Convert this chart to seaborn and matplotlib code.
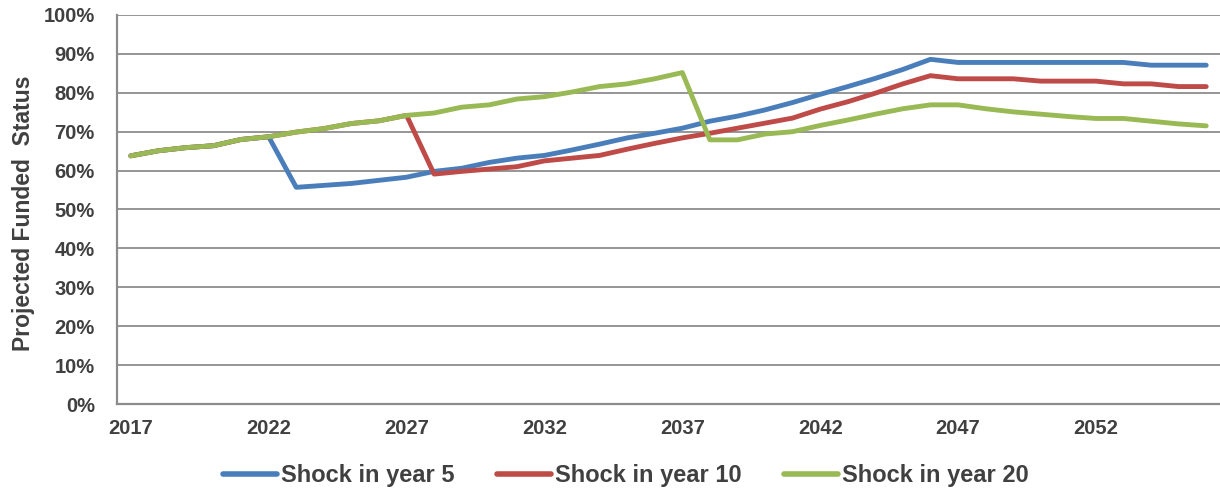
import numpy as np
import pandas as pd
import matplotlib
matplotlib.use("Agg")
import matplotlib.pyplot as plt
import seaborn as sns

# ====== DATA ======
years = list(range(2017, 2057))

shock_5 = [63.8, 65.1, 65.9, 66.4, 68.0, 68.7, 55.7, 56.2, 56.7, 57.5,
           58.3, 59.8, 60.6, 62.1, 63.2, 63.9, 65.3, 66.8, 68.4, 69.6,
           70.9, 72.7, 74.0, 75.6, 77.5, 79.6, 81.6, 83.7, 86.0, 88.6,
           87.8, 87.8, 87.8, 87.8, 87.8, 87.8, 87.8, 87.1, 87.1, 87.1]

shock_10 = [63.8, 65.1, 65.9, 66.4, 68.0, 68.7, 69.9, 70.8, 72.1, 72.8,
            74.2, 59.1, 59.8, 60.4, 61.0, 62.5, 63.2, 63.9, 65.5, 67.0,
            68.4, 69.6, 70.9, 72.2, 73.5, 75.8, 77.7, 79.9, 82.3, 84.4,
            83.6, 83.6, 83.6, 83.0, 83.0, 83.0, 82.3, 82.3, 81.6, 81.6]

shock_20 = [63.8, 65.1, 65.9, 66.4, 68.0, 68.7, 69.9, 70.8, 72.1, 72.8,
            74.2, 74.8, 76.3, 76.9, 78.4, 79.0, 80.2, 81.6, 82.3, 83.6,
            85.2, 67.9, 67.9, 69.4, 70.0, 71.6, 73.0, 74.5, 75.9, 76.9,
            76.9, 75.9, 75.1, 74.5, 73.9, 73.4, 73.4, 72.7, 72.0, 71.5]

series_names = ["Shock in year 5", "Shock in year 10", "Shock in year 20"]
colors = ["#4A7EBB", "#BE4B48", "#98B954"]
x_labels = [2017, 2022, 2027, 2032, 2037, 2042, 2047, 2052]

df = pd.DataFrame({
    "year": years * 3,
    "value": shock_5 + shock_10 + shock_20,
    "series": sum([[n] * len(years) for n in series_names], []),
})

# ====== PLOT ======
sns.set_style("white")
plt.rcParams["font.family"] = ["Liberation Sans", "DejaVu Sans"]
plt.rcParams["font.weight"] = "bold"
TXT = "#404040"
GRID = "#8C8C8C"

fig = plt.figure(figsize=(12.2, 4.9), dpi=100)
ax = fig.add_axes([0.0959, 0.1755, 0.9041, 0.7939])

sns.lineplot(data=df, x="year", y="value", hue="series", hue_order=series_names,
             palette=colors, linewidth=3.5, ax=ax, legend=False,
             solid_capstyle="round", solid_joinstyle="round")

ax.set_xlim(2016.5, 2056.5)
ax.set_ylim(0, 100)
ax.set_yticks(np.arange(0, 101, 10))
ax.set_yticklabels([f"{v}%" for v in range(0, 101, 10)], fontsize=14.5,
                   color=TXT, fontweight="bold")
ax.set_xticks(x_labels)
ax.set_xticklabels([str(v) for v in x_labels], fontsize=14.5, color=TXT,
                   fontweight="bold")
ax.set_xticks(np.arange(2016.5, 2057, 1), minor=True)

ax.tick_params(axis="x", which="major", length=0, pad=11)
ax.tick_params(axis="x", which="minor", length=4, width=1.2, color=GRID,
               direction="out")
ax.tick_params(axis="y", which="major", length=7, width=1.2, color=GRID,
               direction="out", pad=9)

ax.yaxis.grid(True, color=GRID, linewidth=1.3)
ax.xaxis.grid(False)
ax.set_axisbelow(True)

for side in ["top", "right"]:
    ax.spines[side].set_visible(False)
for side in ["left", "bottom"]:
    ax.spines[side].set_color(GRID)
    ax.spines[side].set_linewidth(1.6)

ax.set_xlabel("")
ax.set_ylabel("Projected Funded  Status", fontsize=16.5, color=TXT,
              fontweight="bold")
ax.yaxis.set_label_coords(-0.074, 0.49)

handles = [plt.Line2D([], [], color=c, linewidth=4, solid_capstyle="round")
           for c in colors]
leg = fig.legend(handles, series_names, loc="center", ncol=3, frameon=False,
                 bbox_to_anchor=(0.513, 0.029), fontsize=17,
                 handlelength=2.3, handletextpad=0.15, columnspacing=1.8)
for t in leg.get_texts():
    t.set_color(TXT)
    t.set_fontweight("bold")

fig.savefig("out.png", dpi=100)
plt.close(fig)
